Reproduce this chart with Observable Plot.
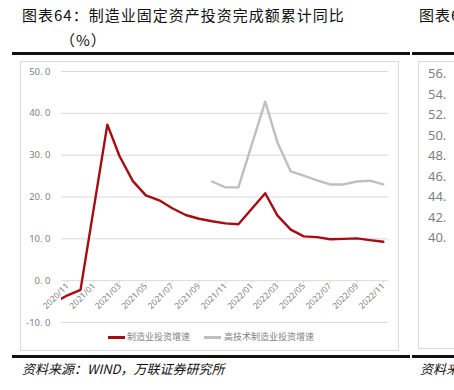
<!DOCTYPE html>
<html><head><meta charset="utf-8">
<script src="https://cdn.jsdelivr.net/npm/d3@7"></script>
<script src="https://cdn.jsdelivr.net/npm/@observablehq/plot@0.6"></script>
<style>
body{margin:0;background:#fff;}
#page{position:relative;width:454px;height:390px;overflow:hidden;font-family:"Noto Sans CJK SC","Noto Sans",sans-serif;background:#fff;}
.abs{position:absolute;white-space:nowrap;}
.title{font-size:15px;letter-spacing:1px;color:#111;line-height:1;}
.rule{height:3px;background:#111;}
.lg{font-size:9px;color:#7f7f7f;line-height:1;}
.sw{display:inline-block;height:3px;}
.rlab{font-size:13px;color:#7f7f7f;font-family:"Noto Sans",sans-serif;line-height:1;}
</style></head><body>
<div id="page">
  <div class="abs title" style="left:22px;top:7px;">图表64：制造业固定资产投资完成额累计同比</div>
  <div class="abs title" style="left:60px;top:32px;">（%）</div>
  <div class="abs title" style="left:419px;top:7px;">图表65</div>
  <div class="abs rule" style="left:12px;top:52px;width:398px;"></div>
  <div class="abs rule" style="left:412px;top:52px;width:42px;"></div>
  <div class="abs" style="left:20px;top:61px;width:377px;height:288px;border:1px solid #d9d9d9;"></div>
  <div class="abs" style="left:418px;top:61px;width:60px;height:286px;border:1px solid #d9d9d9;"></div>
  <div id="rightLabels"></div>
  <div id="chart" class="abs" style="left:20px;top:62px;"></div>
  <div id="legend"></div>
  <div class="abs rule" style="left:12px;top:355px;width:398px;"></div>
  <div class="abs rule" style="left:412px;top:355px;width:42px;"></div>
  <div class="abs" style="left:22px;top:362px;font-size:13px;font-style:italic;color:#111;line-height:1;">资料来源：WIND，万联证券研究所</div>
  <div class="abs" style="left:420px;top:362px;font-size:13px;font-style:italic;color:#111;line-height:1;">资料来源</div>
</div>
<script>
// ---- data ----
const months = ["2020-10","2020-11","2020-12","2021-02","2021-03","2021-04","2021-05","2021-06","2021-07","2021-08","2021-09","2021-10","2021-11","2021-12","2022-02","2022-03","2022-04","2022-05","2022-06","2022-07","2022-08","2022-09","2022-10","2022-11"];
const mfgGrowth = [-5.3,-3.5,-2.2,37.3,29.8,23.8,20.4,19.2,17.3,15.7,14.8,14.2,13.7,13.5,20.9,15.6,12.2,10.6,10.4,9.9,10.0,10.1,9.7,9.3];
const hiTechMonths = ["2021-10","2021-11","2021-12","2022-02","2022-03","2022-04","2022-05","2022-06","2022-07","2022-08","2022-09","2022-10","2022-11"];
const hiTechGrowth = [23.7,22.3,22.3,42.8,33.1,26.1,25.1,24.0,23.0,23.0,23.7,23.9,23.0];
const xTickLabels = ["2020/11","2021/01","2021/03","2021/05","2021/07","2021/09","2021/11","2022/01","2022/03","2022/05","2022/07","2022/09","2022/11"];
const yTicks = [-10,0,10,20,30,40,50];
const seriesNames = ["制造业投资增速","高技术制造业投资增速"];
const seriesColors = ["#a50d12","#bfbfbf"];
const rightTickLabels = ["56.","54.","52.","50.","48.","46.","44.","42.","40."];
const xDomain = ["2020-10-18","2022-11-13"];
const axisCrossing = 0;

// ---- build ----
const pm = d3.utcParse("%Y-%m");
const pt = d3.utcParse("%Y/%m");
const pd = d3.utcParse("%Y-%m-%d");
const mfg = months.map((m,i)=>({date:pm(m), value:mfgGrowth[i]}));
const hi = hiTechMonths.map((m,i)=>({date:pm(m), value:hiTechGrowth[i]}));
const tickDates = xTickLabels.map(s=>pt(s));

const chart = Plot.plot({
  width: 378, height: 270,
  marginLeft: 41, marginRight: 10, marginTop: 9, marginBottom: 10,
  style: {fontFamily: "'Noto Sans', sans-serif", color: "#7f7f7f", background: "transparent"},
  x: {type: "utc", domain: xDomain.map(pd), axis: null},
  y: {domain: [-10, 50], axis: null},
  marks: [
    Plot.gridY(yTicks, {stroke: "#d9d9d9", strokeOpacity: 1, strokeWidth: 1}),
    Plot.axisY(yTicks, {label: null, tickSize: 0, tickPadding: 11, fontSize: 9.5, tickFormat: d => d.toFixed(1).replace(".", ". ")}),
    Plot.ruleX(tickDates, {x: d => d, y1: axisCrossing, y2: -0.7, stroke: "#d9d9d9"}),
    Plot.text(tickDates, {x: d => d, y: () => axisCrossing, text: (d,i) => xTickLabels[i], rotate: -45, textAnchor: "end", dx: 0, dy: 4, fontSize: 8.5, fill: "#7f7f7f"}),
    Plot.line(mfg, {x: "date", y: "value", stroke: seriesColors[0], strokeWidth: 2.4, clip: true}),
    Plot.line(hi, {x: "date", y: "value", stroke: seriesColors[1], strokeWidth: 2.4, clip: true})
  ]
});
document.getElementById("chart").appendChild(chart);

// legend
const lg = document.getElementById("legend");
const lgPos = [{sw:108, tx:127}, {sw:204, tx:224}];
seriesNames.forEach((n,i)=>{
  const s = document.createElement("div");
  s.className = "abs sw";
  s.style.cssText = `left:${lgPos[i].sw}px;top:336px;width:17px;background:${seriesColors[i]};`;
  lg.appendChild(s);
  const t = document.createElement("div");
  t.className = "abs lg";
  t.style.cssText = `left:${lgPos[i].tx}px;top:332px;`;
  t.textContent = n;
  lg.appendChild(t);
});
// right partial chart labels
const rl = document.getElementById("rightLabels");
rightTickLabels.forEach((l,i)=>{
  const t = document.createElement("div");
  t.className = "abs rlab";
  t.style.cssText = `left:428px;top:${67 + i*20.5}px;`;
  t.textContent = l;
  rl.appendChild(t);
});
</script>
</body></html>
